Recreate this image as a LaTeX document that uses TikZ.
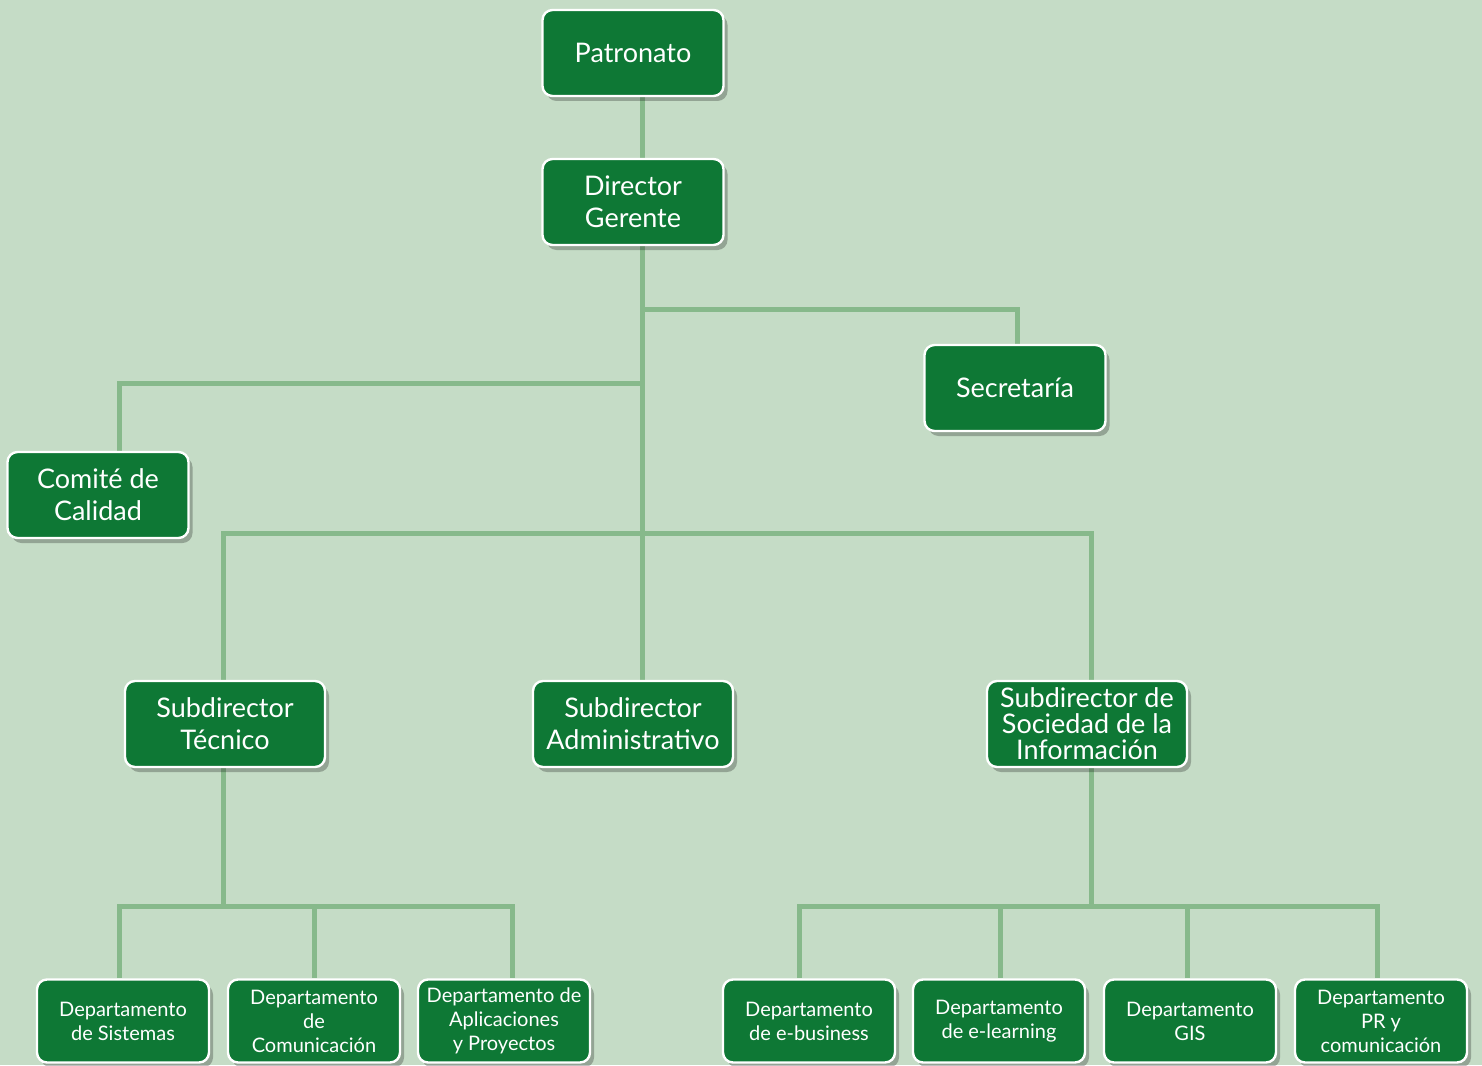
\documentclass[tikz,border=0pt]{standalone}
\usepackage{fontspec}
\setmainfont{Lato}
\usetikzlibrary{shadows,backgrounds}
\definecolor{bgGreen}{HTML}{C5DCC6}
\definecolor{boxGreen}{HTML}{0E7835}
\definecolor{lineGreen}{HTML}{87B98B}

\begin{document}
\begin{tikzpicture}[x=0.5pt,y=-0.5pt,
  box/.style={draw=white, line width=1.2pt, fill=boxGreen, rounded corners=5pt,
    text=white, align=center, minimum width=90.5pt, minimum height=43pt, inner sep=1pt,
    font=\fontsize{13.5}{16}\selectfont,
    drop shadow={shadow xshift=2pt, shadow yshift=-2.5pt, opacity=0.25, fill=black}},
  widebox/.style={box, minimum width=100pt},
  dept/.style={box, minimum width=86pt, minimum height=41.5pt, font=\fontsize{10}{12}\selectfont},
  link/.style={draw=lineGreen, line width=2.5pt}]
\useasboundingbox (0,0) rectangle (1482,1065);

% Nodes
\node[box] (patronato) at (633,53) {Patronato};
\node[box] (director) at (633,202) {Director\\Gerente};
\node[box] (secretaria) at (1015,388) {Secretaría};
\node[box] (comite) at (98,495) {Comité de\\Calidad};
\node[widebox] (tecnico) at (225,724) {Subdirector\\Técnico};
\node[widebox] (admin) at (633,724) {Subdirector\\Administrativo};
\node[widebox, font=\fontsize{13.5}{13}\selectfont] (sociedad) at (1087,724) {Subdirector de\\Sociedad de la\\Información};
\node[dept] (sistemas) at (123,1021) {Departamento\\de Sistemas};
\node[dept] (comunicacion) at (314,1021) {Departamento\\de\\Comunicación};
\node[dept] (aplicaciones) at (504,1021) {Departamento de\\Aplicaciones\\y Proyectos};
\node[dept] (ebusiness) at (809,1021) {Departamento\\de e-business};
\node[dept] (elearning) at (999,1021) {Departamento\\de e-learning};
\node[dept] (gis) at (1190,1021) {Departamento\\GIS};
\node[dept] (prcom) at (1381,1021) {Departamento\\PR y\\comunicación};

% Joints
\coordinate (spine) at (642,0);
\coordinate (secJoin) at (642,309);
\coordinate (comJoin) at (642,383);
\coordinate (subJoin) at (642,533);
\coordinate (tecJoin) at (223,906);
\coordinate (socJoin) at (1091,906);

% Links
\begin{pgfonlayer}{background}
\fill[bgGreen] (0,0) rectangle (1482,1065);
\draw[link] (patronato.south -| spine) -- (admin.north -| spine);
\draw[link] (secJoin) -| ([xshift=1pt]secretaria.north);
\draw[link] (comJoin) -| ([xshift=10.5pt]comite.north);
\draw[link] ([xshift=-1pt]tecnico.north) |- (subJoin) -| ([xshift=2pt]sociedad.north);
\draw[link] ([xshift=-1pt]tecnico.south) -- (tecJoin);
\draw[link] ([xshift=-2pt]sistemas.north) |- (tecJoin) -| ([xshift=4pt]aplicaciones.north);
\draw[link] (comunicacion.north) -- (comunicacion.north |- tecJoin);
\draw[link] ([xshift=2pt]sociedad.south) -- (socJoin);
\draw[link] ([xshift=-5pt]ebusiness.north) |- (socJoin) -| ([xshift=-2pt]prcom.north);
\draw[link] ([xshift=0.5pt]elearning.north) -- ([xshift=0.5pt]elearning.north |- socJoin);
\draw[link] ([xshift=-1.5pt]gis.north) -- ([xshift=-1.5pt]gis.north |- socJoin);
\end{pgfonlayer}
\end{tikzpicture}
\end{document}
